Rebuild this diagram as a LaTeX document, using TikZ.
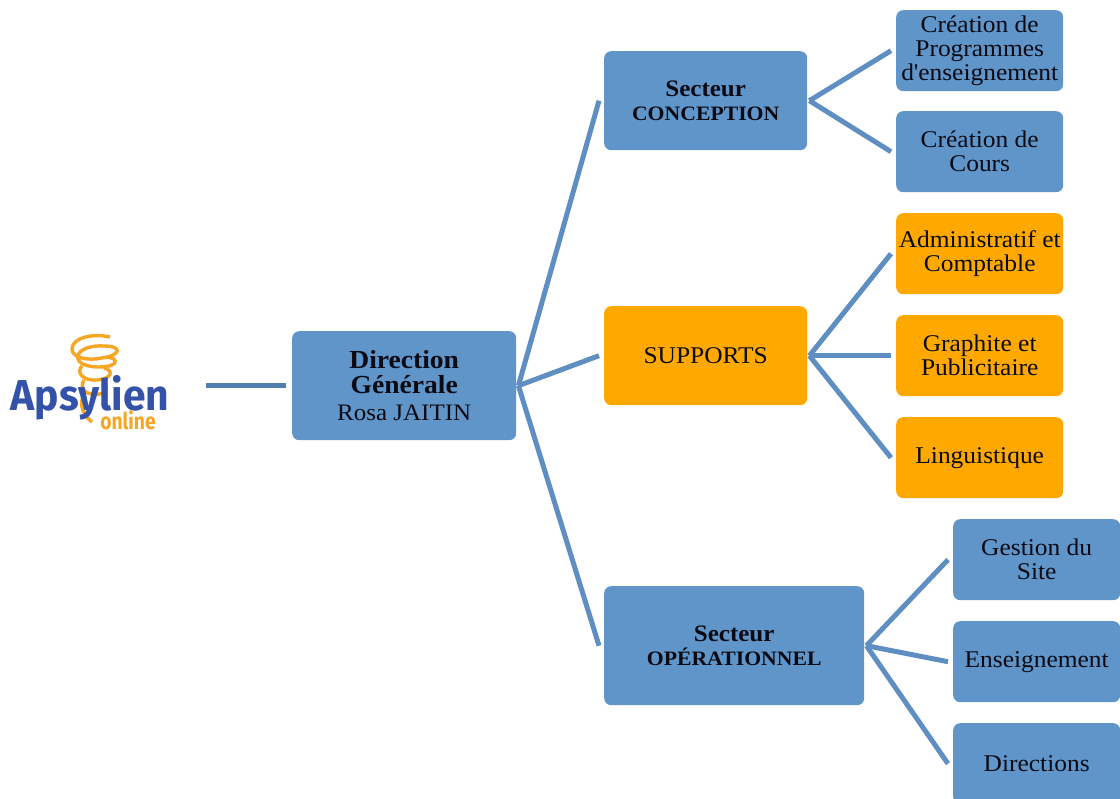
\documentclass[tikz,border=0pt]{standalone}
\usepackage{fontspec}
\setmainfont[FakeStretch=1.06]{Liberation Serif}
\newfontfamily\logofont{Fira Sans}
\definecolor{bluebox}{HTML}{5F95C9}
\definecolor{orangebox}{HTML}{FFA800}
\definecolor{linkblue}{HTML}{5F8FC2}
\definecolor{logoline}{HTML}{4F7FAF}
\definecolor{logoblue}{HTML}{3453A8}
\definecolor{logoorange}{HTML}{F5A623}
\definecolor{textdark}{HTML}{0A0A14}
\newcommand{\leadfont}{\fontsize{24}{24}\selectfont}
\newcommand{\headbf}{\fontsize{23.6}{24}\selectfont\bfseries}
\newcommand{\capsbf}{\fontsize{20.5}{24}\selectfont\bfseries}
\tikzset{
  x=1pt,y=-1pt,
  boxbase/.style={rounded corners=7pt,inner sep=0pt,align=center,text=textdark,anchor=north west,font=\leadfont},
  leafbl/.style={boxbase,fill=bluebox,minimum width=167pt,minimum height=81pt},
  leafor/.style={boxbase,fill=orangebox,minimum width=167pt,minimum height=81pt},
  link/.style={draw=linkblue,line width=5pt},
  spiral/.style={draw=logoorange,line width=3.4pt}
}
\begin{document}
\begin{tikzpicture}
\useasboundingbox (0,0) rectangle (1120,799);
% boxes
\node[boxbase,fill=bluebox,minimum width=224pt,minimum height=109pt] (dg) at (292,331) {{\fontsize{26}{27}\selectfont\bfseries Direction}\\[1pt]{\fontsize{26}{27}\selectfont\bfseries Générale}\\[3pt]{\fontsize{23.6}{27}\selectfont Rosa JAITIN}};
\node[boxbase,fill=bluebox,minimum width=203pt,minimum height=99pt] (s1) at (604,51) {{\headbf Secteur}\\{\capsbf CONCEPTION}};
\node[boxbase,fill=orangebox,minimum width=203pt,minimum height=99pt,font=\fontsize{24}{27}\selectfont] (s2) at (604,306) {SUPPORTS};
\node[boxbase,fill=bluebox,minimum width=260pt,minimum height=119pt] (s3) at (604,586) {{\headbf Secteur}\\{\capsbf OPÉRATIONNEL}};
\node[leafbl] (a1) at (896,10) {Création de\\Programmes\\d\textquotesingle enseignement};
\node[leafbl] (a2) at (896,111) {Création de\\Cours};
\node[leafor] (b1) at (896,213) {Administratif et\\Comptable};
\node[leafor] (b2) at (896,315) {Graphite et\\Publicitaire};
\node[leafor] (b3) at (896,417) {Linguistique};
\node[leafbl] (c1) at (953,519) {Gestion du\\Site};
\node[leafbl] (c2) at (953,621) {Enseignement};
\node[leafbl] (c3) at (953,723) {Directions};
% connectors
\foreach \p/\c in {dg/s1,dg/s2,dg/s3,s1/a1,s1/a2,s2/b1,s2/b2,s2/b3,s3/c1,s3/c2,s3/c3}
  \draw[link] ([xshift=2pt]\p.east) -- ([xshift=-5pt]\c.west);
% logo
\begin{scope}[spiral]
\draw (110,337) .. controls (92,333) and (72,338) .. (72,349) .. controls (72,358) and (88,361) .. (102,358) .. controls (122,355) and (122,346) .. (104,346) .. controls (86,345) and (76,352) .. (78,359) .. controls (80,368) and (106,369) .. (114,364) .. controls (118,360) and (112,357) .. (106,357);
\draw (82,366) .. controls (76,372) and (82,381) .. (97,380) .. controls (112,379) and (114,370) .. (104,368);
\draw (84,380) .. controls (78,390) and (88,396) .. (100,394) .. controls (108,392) and (108,386) .. (102,384);
\draw (84,395) .. controls (78,404) and (84,416) .. (92,422);
\end{scope}
\node[inner sep=0pt,font=\logofont\bfseries\fontsize{40}{40}\selectfont,text=logoblue,anchor=base] (logo) at (90,411) {\scalebox{1.02}[1.08]{Apsylien}};
\node[inner sep=0pt,font=\logofont\bfseries\fontsize{21}{21}\selectfont,text=logoorange,anchor=base] (logob) at (128,430) {\scalebox{0.92}[1.1]{online}};
\coordinate (logoend) at ([xshift=-86pt]dg.west);
\draw[draw=logoline,line width=5pt] (logoend) -- ([xshift=-6pt]dg.west);
\end{tikzpicture}
\end{document}
